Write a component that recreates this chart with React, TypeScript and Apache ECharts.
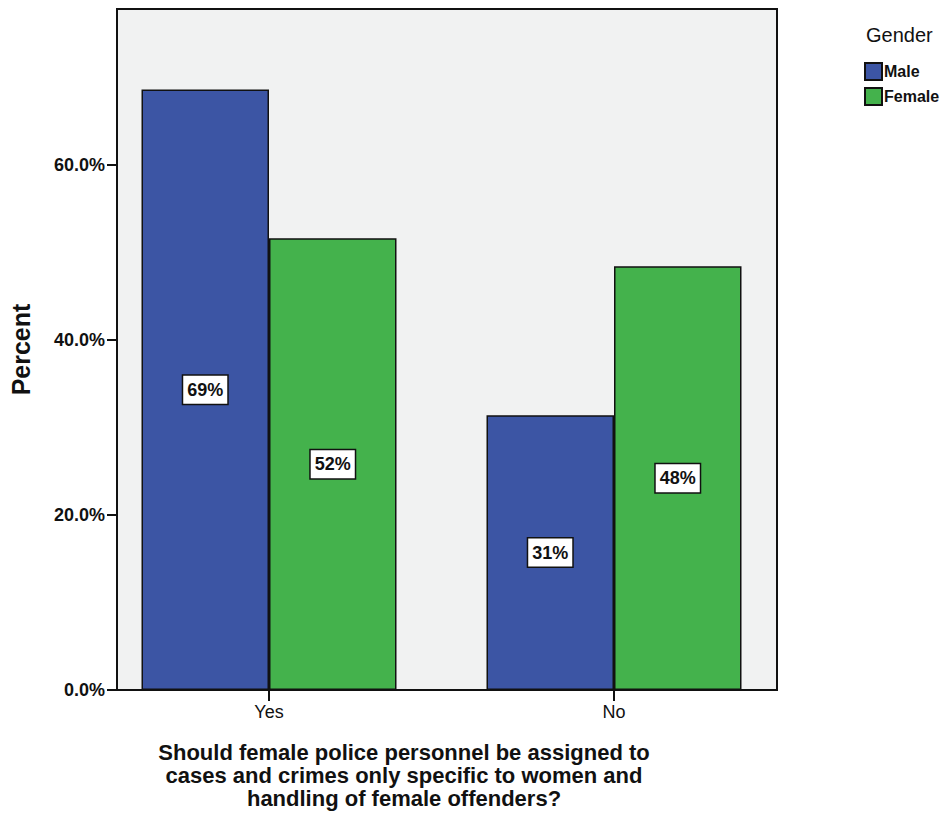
import React, { useEffect, useRef } from "react";
import * as echarts from "echarts";

const categories = ["Yes", "No"];
const maleValues = [68.6, 31.4];
const femaleValues = [51.6, 48.4];
const yTickValues = [0, 20, 40, 60];
const seriesNames = ["Male", "Female"];
const xAxisTitle = "Should female police personnel be assigned to\ncases and crimes only specific to women and\nhandling of female offenders?";
const yAxisTitle = "Percent";
const legendTitle = "Gender";

const FONT = "'Liberation Sans', Arial, Helvetica, sans-serif";
const INK = "#111111";

export default function App() {
  const ref = useRef<HTMLDivElement>(null);

  useEffect(() => {
    if (!ref.current) return;
    const chart = echarts.init(ref.current, null, { renderer: "svg" });
    const labelStyle = {
      show: true,
      position: "inside",
      formatter: (p: any) => Math.round(p.value) + "%",
      backgroundColor: "#ffffff",
      borderColor: INK,
      borderWidth: 1.5,
      padding: [6, 4, 4, 4],
      fontSize: 18,
      fontWeight: "bold",
      fontFamily: FONT,
      color: INK,
    };
    chart.setOption({
      animation: false,
      backgroundColor: "#ffffff",
      grid: [
        {
          left: 107,
          top: 9,
          width: 670,
          height: 681,
          show: true,
          backgroundColor: "#f1f2f2",
          borderColor: INK,
          borderWidth: 2,
        },
        { left: 96.5, top: 9, width: 690, height: 681 },
      ],
      xAxis: [
        { gridIndex: 0, type: "value", show: false, min: 0, max: 1 },
        {
          gridIndex: 1,
          type: "category",
          data: categories,
          axisLine: { show: false },
          axisTick: {
            show: true,
            alignWithLabel: true,
            length: 11,
            lineStyle: { color: INK, width: 2 },
          },
          axisLabel: {
            margin: 13,
            fontSize: 18,
            fontFamily: FONT,
            color: INK,
          },
          splitLine: { show: false },
        },
      ],
      yAxis: [
        {
          gridIndex: 0,
          type: "value",
          min: 0,
          max: 77.8,
          interval: 20,
          axisLine: { show: false },
          axisTick: {
            show: true,
            length: 10,
            customValues: yTickValues,
            lineStyle: { color: INK, width: 2 },
          },
          axisLabel: {
            customValues: yTickValues,
            formatter: (v: number) => v.toFixed(1) + "%",
            fontSize: 18,
            fontWeight: "bold",
            fontFamily: FONT,
            color: INK,
            margin: 12,
          },
          splitLine: { show: false },
          name: yAxisTitle,
          nameLocation: "middle",
          nameGap: 84,
          nameTextStyle: {
            fontSize: 25,
            fontWeight: "bold",
            fontFamily: FONT,
            color: INK,
          },
        },
        { gridIndex: 1, type: "value", min: 0, max: 77.8, show: false },
      ],
      legend: {
        orient: "vertical",
        left: 859,
        top: 57,
        itemWidth: 17,
        itemHeight: 17,
        itemGap: 6,
        icon: "rect",
        data: seriesNames,
        textStyle: {
          fontSize: 16,
          fontWeight: "bold",
          fontFamily: FONT,
          color: INK,
          padding: [0, 0, 0, -3],
        },
      },
      graphic: [
        {
          type: "text",
          x: 866,
          y: 25,
          style: {
            text: legendTitle,
            font: `20px ${FONT}`,
            fill: INK,
            textAlign: "left",
            textVerticalAlign: "top",
          },
        },
        {
          type: "text",
          x: 404,
          y: 741,
          style: {
            text: xAxisTitle,
            font: `bold 22px ${FONT}`,
            fill: INK,
            lineHeight: 23,
            textAlign: "center",
            textVerticalAlign: "top",
          },
        },
      ],
      series: [
        {
          name: seriesNames[0],
          type: "bar",
          xAxisIndex: 1,
          yAxisIndex: 1,
          data: maleValues,
          barWidth: 127.5,
          barGap: "0%",
          itemStyle: { color: "#3c55a4", borderColor: INK, borderWidth: 1.5 },
          label: labelStyle,
        },
        {
          name: seriesNames[1],
          type: "bar",
          xAxisIndex: 1,
          yAxisIndex: 1,
          data: femaleValues,
          barWidth: 127.5,
          barGap: "0%",
          itemStyle: { color: "#44b24c", borderColor: INK, borderWidth: 1.5 },
          label: labelStyle,
        },
      ],
    });
    return () => chart.dispose();
  }, []);

  return (
    <div
      ref={ref}
      style={{ position: "fixed", left: 0, top: 0, width: 943, height: 820 }}
    />
  );
}
